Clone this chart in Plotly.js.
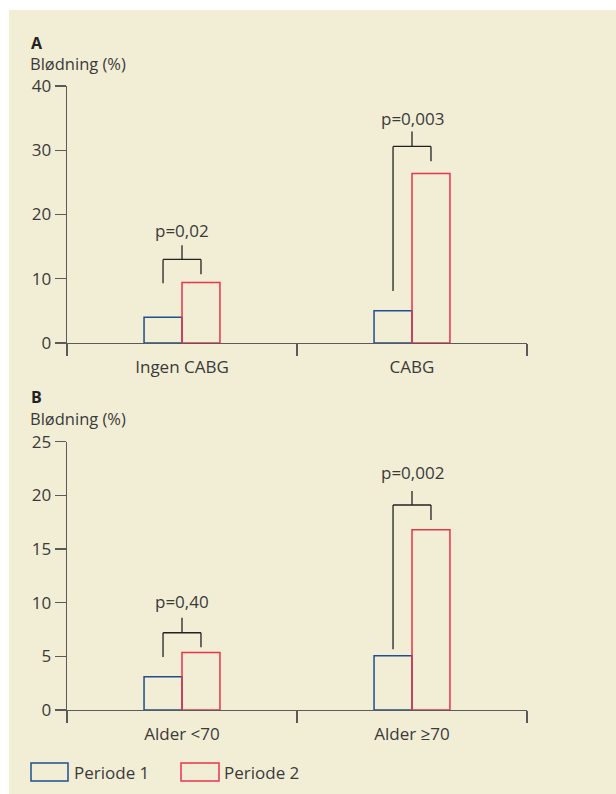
<!DOCTYPE html>
<html>
<head>
<meta charset="utf-8">
<script src="https://cdn.plot.ly/plotly-3.0.1.min.js"></script>
<style>html,body{margin:0;padding:0;background:#fff;}#chart{width:616px;height:794px;}</style>
</head>
<body>
<div id="chart"></div>
<script>
// ---- data ----
const catsA = ["Ingen CABG", "CABG"];
const periode1A = [4.0, 5.0];
const periode2A = [9.4, 26.4];
const pTextA = ["p=0,02", "p=0,003"];
// bracket: left leg bottom, bar-line height, right leg bottom, top of stem, label height
const brLeftA = [9.3, 8.1];
const brBarA = [13.0, 30.6];
const brRightA = [10.7, 28.3];
const brTopA = [15.2, 32.9];
const brLabelA = [17.5, 34.9];

const catsB = ["Alder <70", "Alder \u226570"];
const periode1B = [3.1, 5.05];
const periode2B = [5.35, 16.8];
const pTextB = ["p=0,40", "p=0,002"];
const brLeftB = [4.95, 5.65];
const brBarB = [7.2, 19.1];
const brRightB = [5.85, 17.7];
const brTopB = [8.6, 20.4];
const brLabelB = [10.1, 22.1];

const seriesNames = ["Periode 1", "Periode 2"];
const yTicksA = [0, 10, 20, 30, 40];
const yTicksB = [0, 5, 10, 15, 20, 25];

// ---- style ----
const W = 616, H = 794;
const BLUE = "#1f4f8e", RED = "#e8344c", AX = "#5a5a5a", TXT = "#3a3a3a", BR = "#222222";
const FONT = "Open Sans, Liberation Sans, Arial, sans-serif";
const BW = 0.165;
const px = v => v / W, py = v => 1 - v / H;

function bars(cats, v1, v2, xa, ya) {
  return [
    {type: "bar", x: cats, y: v1, name: seriesNames[0], xaxis: xa, yaxis: ya,
     width: BW, offset: -BW, marker: {color: "rgba(0,0,0,0)", line: {color: BLUE, width: 1.5}},
     showlegend: false, hoverinfo: "skip"},
    {type: "bar", x: cats, y: v2, name: seriesNames[1], xaxis: xa, yaxis: ya,
     width: BW, offset: 0, marker: {color: "rgba(0,0,0,0)", line: {color: RED, width: 1.5}},
     showlegend: false, hoverinfo: "skip"}
  ];
}

function brackets(n, left, bar, right, top, xr, yr) {
  const s = [];
  for (let i = 0; i < n; i++) {
    const xl = i - BW / 2, xrr = i + BW / 2;
    const line = {color: BR, width: 1.3};
    s.push({type: "line", xref: xr, yref: yr, x0: xl, x1: xl, y0: left[i], y1: bar[i], line});
    s.push({type: "line", xref: xr, yref: yr, x0: xl, x1: xrr, y0: bar[i], y1: bar[i], line});
    s.push({type: "line", xref: xr, yref: yr, x0: xrr, x1: xrr, y0: right[i], y1: bar[i], line});
    s.push({type: "line", xref: xr, yref: yr, x0: i, x1: i, y0: bar[i], y1: top[i], line});
  }
  return s;
}

function pAnn(texts, ys, xr, yr) {
  return texts.map((t, i) => ({text: t, x: i, y: ys[i], xref: xr, yref: yr, showarrow: false,
    xanchor: "center", yanchor: "middle", font: {family: FONT, size: 17, color: TXT}}));
}

const data = [
  ...bars(catsA, periode1A, periode2A, "x", "y"),
  ...bars(catsB, periode1B, periode2B, "x2", "y2")
];

const xDom = [px(67), px(527)];
const domA = [py(343), py(86)];
const domB = [py(710), py(441.7)];

function catAxis(cats, anchor) {
  return {domain: xDom, anchor, type: "category", categoryarray: cats, range: [-0.5, 1.5],
    showline: true, linecolor: AX, linewidth: 1.3, ticks: "", showgrid: false, zeroline: false,
    tickfont: {family: FONT, size: 17, color: TXT}, ticklabelstandoff: 8, fixedrange: true};
}
function tickAxis(over, anchor) {
  return {domain: xDom, anchor, overlaying: over, type: "linear", range: [-0.5, 1.5],
    tickvals: [-0.5, 0.5, 1.5], ticks: "outside", ticklen: 12, tickwidth: 1.3, tickcolor: AX,
    showticklabels: false, showline: false, showgrid: false, zeroline: false, fixedrange: true};
}
function valAxis(dom, anchor, rng, tv) {
  return {domain: dom, anchor, range: rng, tickvals: tv, ticks: "outside", ticklen: 11, tickwidth: 1.3,
    tickcolor: AX, showline: true, linecolor: AX, linewidth: 1.3, showgrid: false, zeroline: false,
    tickfont: {family: FONT, size: 17, color: TXT}, fixedrange: true};
}

const txtAnn = (t, x, y, opts = {}) => Object.assign({text: t, x: px(x), y: py(y), xref: "paper", yref: "paper",
  showarrow: false, xanchor: "left", yanchor: "middle", borderpad: 0, font: {family: FONT, size: 17, color: TXT}}, opts);

const shapes = [
  {type: "rect", xref: "paper", yref: "paper", x0: px(9), x1: 1, y0: 0, y1: py(10),
   fillcolor: "#f2eed6", line: {width: 0}, layer: "below"},
  ...brackets(2, brLeftA, brBarA, brRightA, brTopA, "x", "y"),
  ...brackets(2, brLeftB, brBarB, brRightB, brTopB, "x2", "y2"),
  {type: "rect", xref: "paper", yref: "paper", x0: px(31), x1: px(68), y0: py(781), y1: py(763),
   line: {color: BLUE, width: 1.5}, fillcolor: "rgba(0,0,0,0)"},
  {type: "rect", xref: "paper", yref: "paper", x0: px(181), x1: px(219), y0: py(781), y1: py(763),
   line: {color: RED, width: 1.5}, fillcolor: "rgba(0,0,0,0)"}
];

const annotations = [
  txtAnn("<b>A</b>", 30, 43, {font: {family: FONT, size: 16, color: "#222"}}),
  txtAnn("Blødning (%)", 29, 63, {font: {family: FONT, size: 16.5, color: TXT}}),
  txtAnn("<b>B</b>", 30, 397, {font: {family: FONT, size: 16, color: "#222"}}),
  txtAnn("Blødning (%)", 29, 418, {font: {family: FONT, size: 16.5, color: TXT}}),
  ...pAnn(pTextA, brLabelA, "x", "y"),
  ...pAnn(pTextB, brLabelB, "x2", "y2"),
  txtAnn(seriesNames[0], 73, 772),
  txtAnn(seriesNames[1], 223, 772)
];

const layout = {
  width: W, height: H, margin: {l: 0, r: 0, t: 0, b: 0},
  paper_bgcolor: "#ffffff", plot_bgcolor: "rgba(0,0,0,0)",
  showlegend: false, barmode: "overlay",
  font: {family: FONT, size: 17, color: TXT},
  xaxis: catAxis(catsA, "y"),
  xaxis2: catAxis(catsB, "y2"),
  xaxis3: tickAxis("x", "y"),
  xaxis4: tickAxis("x2", "y2"),
  yaxis: valAxis(domA, "x", [0, 40], yTicksA),
  yaxis2: valAxis(domB, "x2", [0, 25], yTicksB),
  shapes, annotations
};

// empty traces so the tick-only overlay axes are drawn
data.push({type: "scatter", x: [], y: [], xaxis: "x3", yaxis: "y", showlegend: false, hoverinfo: "skip"});
data.push({type: "scatter", x: [], y: [], xaxis: "x4", yaxis: "y2", showlegend: false, hoverinfo: "skip"});

Plotly.newPlot("chart", data, layout, {staticPlot: true, displayModeBar: false});
</script>
</body>
</html>
